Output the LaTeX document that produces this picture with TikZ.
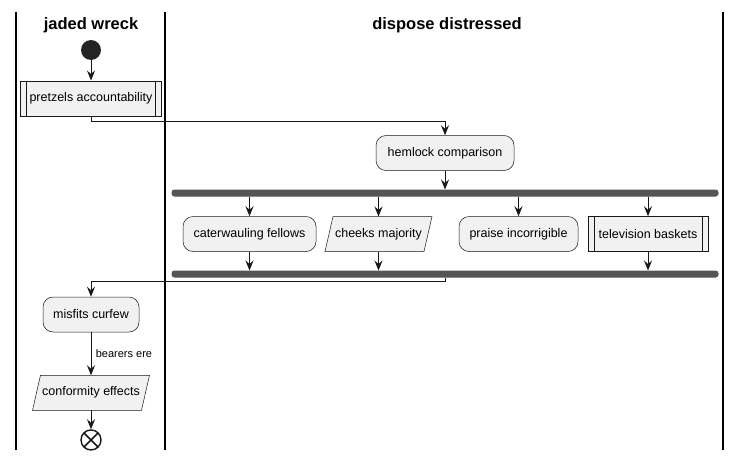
\documentclass[tikz,border=0pt]{standalone}
\usepackage{fontspec}
\setmainfont{Liberation Sans}
\usetikzlibrary{arrows.meta,positioning,backgrounds}
\definecolor{boxfill}{HTML}{F1F1F1}
\definecolor{edge}{HTML}{181818}
\definecolor{barfill}{HTML}{555555}
\begin{document}
\begin{tikzpicture}[x=1pt,y=-1pt,->,>={Stealth[length=10pt,width=8pt,inset=3.5pt]},line width=1pt,draw=edge,font=\fontsize{12.5}{14}\selectfont,node distance=20pt]
\tikzstyle{act}=[draw=edge,line width=0.5pt,fill=boxfill,rounded corners=10pt,minimum height=35pt,inner xsep=6pt]
\tikzstyle{sub}=[draw=edge,line width=0.5pt,fill=boxfill,minimum height=35pt,inner xsep=6pt,path picture={\draw[-,edge,line width=0.5pt] ([xshift=6pt]path picture bounding box.north west) -- ([xshift=6pt]path picture bounding box.south west) ([xshift=-6pt]path picture bounding box.north east) -- ([xshift=-6pt]path picture bounding box.south east);}]
\tikzstyle{io}=[minimum height=34pt,inner xsep=2pt]
\tikzstyle{iobox}=[-,draw=edge,line width=0.5pt,fill=boxfill]
\tikzstyle{bar}=[draw=barfill,fill=barfill,rounded corners=2.5pt,minimum height=6pt,inner sep=0pt]
\tikzstyle{lane}=[-,line width=1.2pt,draw=black]
\tikzstyle{title}=[font=\fontsize{16.5}{18}\selectfont\bfseries]
\useasboundingbox (0,0) rectangle (741,460);
\draw[lane] (16,12) -- (16,450) (165,12) -- (165,450) (723,12) -- (723,450);
\node[title] (jw) at (91,25) {jaded wreck};
\node[title] (dd) at (447,25) {dispose distressed};
\node[circle,fill=edge!95!white,minimum size=20pt,inner sep=0pt] (start) at (91,50) {};
\node[sub,minimum width=141pt] (pa) [below=of start] {pretzels accountability};
\node[act,minimum width=138pt] (hc) at (445,153) {hemlock comparison};
\node[bar,minimum width=546pt] (fork) at (445,193) {};
\node[act,minimum width=133pt] (cf) at (249.5,234) {caterwauling fellows};
\node[io,minimum width=98pt] (cm) at (378.5,234) {cheeks majority};
\node[act,minimum width=119pt] (pi) at (518.5,234) {praise incorrigible};
\node[sub,minimum width=120pt] (tb) at (648,234) {television baskets};
\node[bar,minimum width=546pt] (join) at (445,274) {};
\node[act,minimum width=96pt] (mc) at (91,314.5) {misfits curfew};
\node[io,minimum width=108pt] (ce) [below=43pt of mc] {conformity effects};
\node[circle,draw=edge,fill=white,line width=1.4pt,minimum size=20pt,inner sep=0pt,path picture={\draw[-,line width=1.6pt] (path picture bounding box.north west) -- (path picture bounding box.south east) (path picture bounding box.north east) -- (path picture bounding box.south west);}] (stop) [below=19pt of ce] {};
\begin{scope}[on background layer]
\foreach \n in {cm,ce} \draw[iobox] ([xshift=-4pt]\n.south west) -- ([xshift=4pt]\n.north west) -- ([xshift=4pt]\n.north east) -- ([xshift=-4pt]\n.south east) -- cycle;
\end{scope}
\draw (start) -- (pa);
\draw (pa.south) -- ++(0,5) -| (hc.north);
\draw (hc) -- (fork);
\foreach \n in {cf,cm,pi,tb} \draw (fork.south -| \n.north) -- (\n.north);
\foreach \n in {cf,cm,tb} \draw (\n.south) -- (join.north -| \n.south);
\draw (join.south -| hc.south) -- ++(0,4) -| (mc.north);
\draw (mc) -- node[right=1pt,font=\fontsize{11}{13}\selectfont] {bearers ere} (ce);
\draw (ce) -- (stop);
\end{tikzpicture}
\end{document}
